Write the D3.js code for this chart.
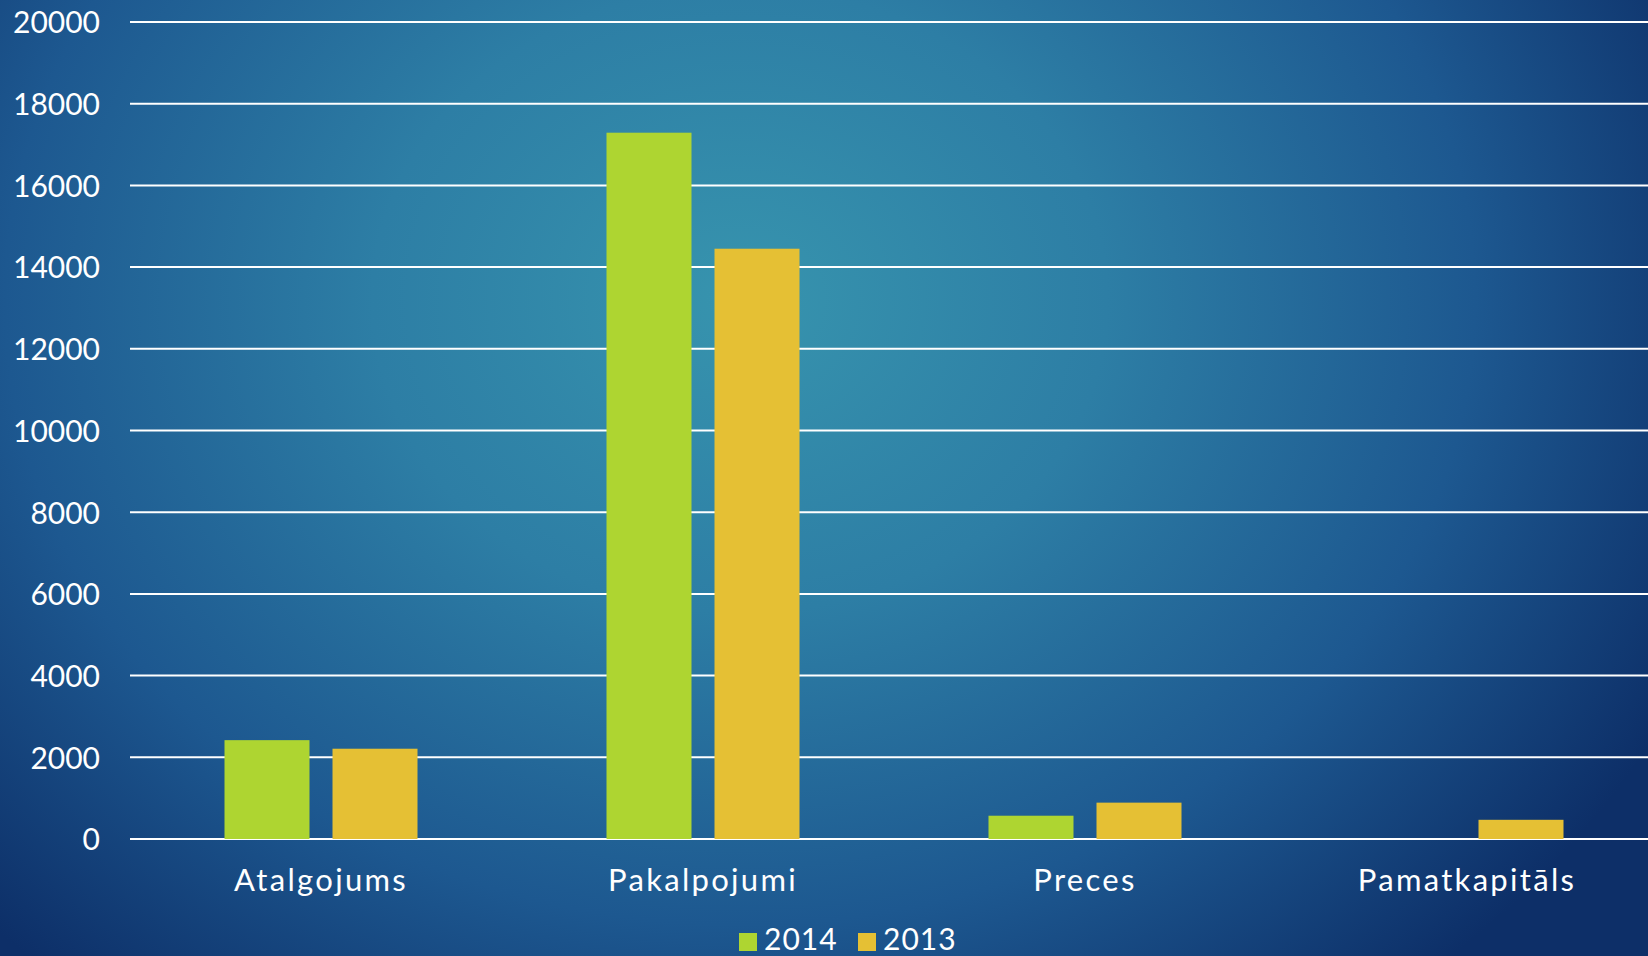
<!DOCTYPE html>
<html>
<head>
<meta charset="utf-8">
<script src="https://cdn.jsdelivr.net/npm/d3@7"></script>
<style>
  html, body { margin: 0; padding: 0; overflow: hidden; background: #1d4f85; }
  text { font-family: Lato, "Open Sans", sans-serif; fill: #ffffff; }
</style>
</head>
<body>
<div id="chart"></div>
<script>
var categories = ["Atalgojums", "Pakalpojumi", "Preces", "Pamatkapitāls"];
var seriesNames = ["2014", "2013"];
var values2014 = [2420, 17290, 570, 0];
var values2013 = [2210, 14450, 890, 470];
var yTicks = [0, 2000, 4000, 6000, 8000, 10000, 12000, 14000, 16000, 18000, 20000];
var colors = ["#aed531", "#e5c034"];

var svgWidth = 1648;
var svgHeight = 956;

var svg = d3.select("#chart")
  .append("svg")
  .attr("width", svgWidth)
  .attr("height", svgHeight);

// background gradient
var defs = svg.append("defs");
var grad = defs.append("radialGradient")
  .attr("id", "bg")
  .attr("gradientUnits", "userSpaceOnUse")
  .attr("cx", 740).attr("cy", 300).attr("r", 1050)
  .attr("gradientTransform", "translate(740,300) scale(1,0.85) translate(-740,-300)");
grad.append("stop").attr("offset", "0%").attr("stop-color", "#3794ae");
grad.append("stop").attr("offset", "35%").attr("stop-color", "#2d7ea5");
grad.append("stop").attr("offset", "70%").attr("stop-color", "#1d5890");
grad.append("stop").attr("offset", "100%").attr("stop-color", "#0d2f68");

svg.append("rect")
  .attr("width", svgWidth)
  .attr("height", svgHeight)
  .attr("fill", "url(#bg)");

var data = categories.map(function(c, i) {
  return { cat: c, vals: [values2014[i], values2013[i]] };
});

var x0 = d3.scaleBand()
  .domain(categories)
  .range([130, 1658])
  .paddingInner(0)
  .paddingOuter(0);

var x1 = d3.scaleBand()
  .domain(seriesNames)
  .range([0, x0.bandwidth()])
  .paddingInner(0.213)
  .paddingOuter(0.875);

var y = d3.scaleLinear()
  .domain([0, 20000])
  .range([839, 22]);

// gridlines
svg.append("g")
  .selectAll("line")
  .data(yTicks)
  .enter()
  .append("line")
  .attr("x1", 130)
  .attr("x2", svgWidth)
  .attr("y1", d => y(d))
  .attr("y2", d => y(d))
  .attr("stroke", "#ffffff")
  .attr("stroke-width", 2);

// y tick labels
var leftAxis = d3.axisLeft(y).tickValues(yTicks).tickSize(0).tickPadding(0).tickFormat(d3.format("d"));
var yAxis = svg.append("g")
  .attr("transform", "translate(100,0)")
  .call(leftAxis);
yAxis.select(".domain").remove();
yAxis.selectAll("text")
  .attr("font-size", 30)
  .attr("font-family", "Lato, sans-serif")
  .attr("fill", "#ffffff")
  .attr("dy", "0.36em");

// bars
var groups = svg.append("g")
  .selectAll("g")
  .data(data)
  .enter()
  .append("g")
  .attr("transform", d => `translate(${x0(d.cat)},0)`);

groups.selectAll("rect")
  .data(d => d.vals.map((v, i) => ({ key: seriesNames[i], v: v, i: i })))
  .enter()
  .filter(d => d.v > 0)
  .append("rect")
  .attr("x", d => x1(d.key))
  .attr("width", x1.bandwidth())
  .attr("y", d => y(d.v))
  .attr("height", d => y(0) - y(d.v))
  .attr("fill", d => colors[d.i]);

// category labels
var bottomAxis = d3.axisBottom(x0).tickSize(0).tickPadding(0);
var xAxis = svg.append("g")
  .attr("transform", "translate(0,880)")
  .call(bottomAxis);
xAxis.select(".domain").remove();
xAxis.selectAll("text")
  .attr("font-size", 31)
  .attr("font-family", "Lato, sans-serif")
  .attr("letter-spacing", "2.3px")
  .attr("fill", "#ffffff")
  .attr("dy", "0.36em");

// legend
var legend = svg.append("g");
var legendX = [739, 858];
seriesNames.forEach(function(s, i) {
  legend.append("rect")
    .attr("x", legendX[i])
    .attr("y", 933)
    .attr("width", 18)
    .attr("height", 18)
    .attr("fill", colors[i]);
  legend.append("text")
    .attr("x", legendX[i] + 25)
    .attr("y", 950)
    .attr("font-size", 30)
    .attr("letter-spacing", "1px")
    .text(s);
});
</script>
</body>
</html>
